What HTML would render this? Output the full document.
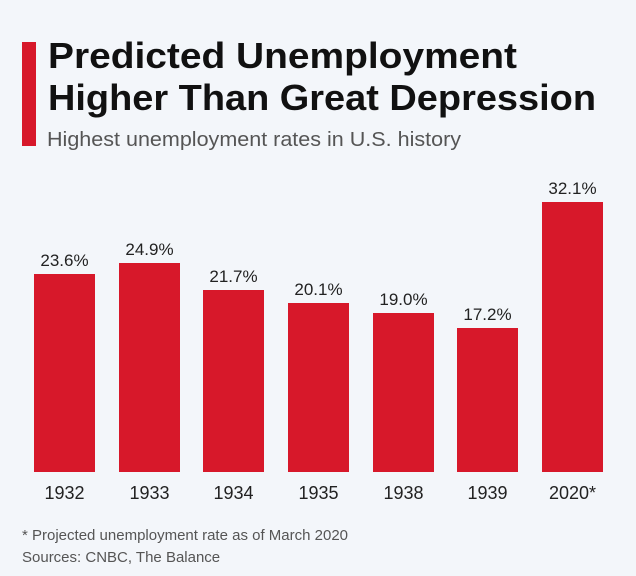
<!DOCTYPE html>
<html><head><meta charset="utf-8"><style>
html,body{margin:0;padding:0;background:#f3f6fa;}
svg{display:block;font-family:"Liberation Sans",sans-serif;}
</style></head><body>
<svg width="636" height="576" viewBox="0 0 636 576" xmlns="http://www.w3.org/2000/svg">
<rect width="636" height="576" fill="#f3f6fa"/>
<rect x="22" y="42" width="14" height="104" fill="#d7182a"/>
<text x="48" y="68" font-size="36" font-weight="bold" fill="#111" textLength="469" lengthAdjust="spacingAndGlyphs">Predicted Unemployment</text>
<text x="48" y="110" font-size="36" font-weight="bold" fill="#111" textLength="548" lengthAdjust="spacingAndGlyphs">Higher Than Great Depression</text>
<text x="47" y="146" font-size="20" fill="#555" textLength="414" lengthAdjust="spacingAndGlyphs">Highest unemployment rates in U.S. history</text>
<g fill="#d7182a">
<rect x="34" y="274" width="61" height="198"/>
<rect x="119" y="263" width="61" height="209"/>
<rect x="203" y="290" width="61" height="182"/>
<rect x="288" y="303" width="61" height="169"/>
<rect x="373" y="313" width="61" height="159"/>
<rect x="457" y="328" width="61" height="144"/>
<rect x="542" y="202" width="61" height="270"/>
</g>
<g font-size="17" fill="#222" text-anchor="middle">
<text x="64.5" y="266">23.6%</text>
<text x="149.5" y="255">24.9%</text>
<text x="233.5" y="282">21.7%</text>
<text x="318.5" y="295">20.1%</text>
<text x="403.5" y="305">19.0%</text>
<text x="487.5" y="320">17.2%</text>
<text x="572.5" y="194">32.1%</text>
</g>
<g font-size="18" fill="#222" text-anchor="middle">
<text x="64.5" y="499">1932</text>
<text x="149.5" y="499">1933</text>
<text x="233.5" y="499">1934</text>
<text x="318.5" y="499">1935</text>
<text x="403.5" y="499">1938</text>
<text x="487.5" y="499">1939</text>
<text x="572.5" y="499">2020*</text>
</g>
<text x="22" y="540" font-size="15" fill="#555">* Projected unemployment rate as of March 2020</text>
<text x="22" y="562" font-size="15" fill="#555">Sources: CNBC, The Balance</text>
</svg>
</body></html>
